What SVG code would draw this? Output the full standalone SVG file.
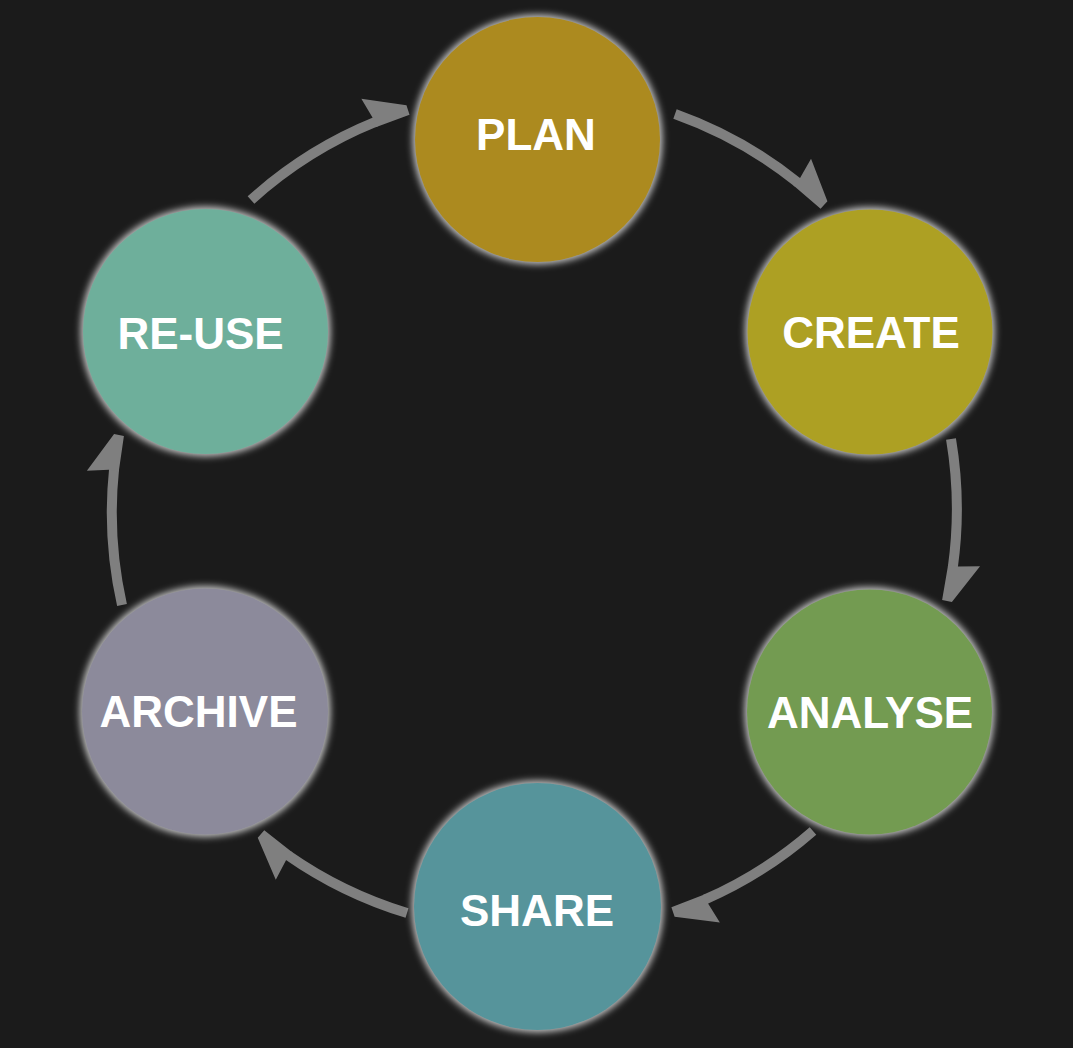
<svg xmlns="http://www.w3.org/2000/svg" width="1073" height="1048" viewBox="0 0 1073 1048">
<defs>
<filter id="glow" x="-20%" y="-20%" width="140%" height="140%"><feGaussianBlur stdDeviation="3.5"/></filter>
<polygon id="head" points="-36,-3.5 -41,-25 0,-5 0,5 -36,6.5"/>
<style>
.halo{fill:#c4c4c4;filter:url(#glow)}
.lbl{font-family:"Liberation Sans",Arial,sans-serif;font-weight:bold;font-size:44px;fill:#ffffff;text-anchor:middle}
.arc{fill:none;stroke:#7f7f7f;stroke-width:10}
.hd{fill:#7f7f7f}
</style>
</defs>
<rect width="1073" height="1048" fill="#1b1b1b"/>
<g id="connectors">
<path class="arc" d="M251,200 A422,422 0 0 1 376,121.7"/>
<use href="#head" class="hd" transform="translate(408,110) rotate(-17.75)"/>
<path class="arc" d="M675,114 A422,422 0 0 1 798.2,182.9"/>
<use href="#head" class="hd" transform="translate(824,205) rotate(42.97)"/>
<path class="arc" d="M951,439 A422,422 0 0 1 952.8,567.5"/>
<use href="#head" class="hd" transform="translate(947,601) rotate(102.1)"/>
<path class="arc" d="M813,831 A422,422 0 0 1 704.7,899.7"/>
<use href="#head" class="hd" transform="translate(673,912) rotate(161.2)"/>
<path class="arc" d="M407,913 A422,422 0 0 1 287.7,855.1"/>
<use href="#head" class="hd" transform="translate(261,834) rotate(-139.3)"/>
<path class="arc" d="M122,605 A422,422 0 0 1 114.1,468.7"/>
<use href="#head" class="hd" transform="translate(119,435) rotate(-79.4)"/>
</g>
<g id="plan">
<circle class="halo" cx="537.5" cy="139.5" r="125"/>
<circle cx="537.5" cy="139.5" r="122.5" fill="#ac8a1f"/>
<text class="lbl" x="536" y="149.5">PLAN</text>
</g>
<g id="create">
<circle class="halo" cx="870" cy="332" r="125"/>
<circle cx="870" cy="332" r="122.5" fill="#ada023"/>
<text class="lbl" x="871" y="348.3">CREATE</text>
</g>
<g id="analyse">
<circle class="halo" cx="869.5" cy="712" r="125"/>
<circle cx="869.5" cy="712" r="122.5" fill="#739b51"/>
<text class="lbl" x="870" y="728.3">ANALYSE</text>
</g>
<g id="share">
<circle class="halo" cx="537.5" cy="906.5" r="126"/>
<circle cx="537.5" cy="906.5" r="123.5" fill="#56949b"/>
<text class="lbl" x="537" y="926">SHARE</text>
</g>
<g id="archive">
<circle class="halo" cx="205" cy="711.5" r="125.5"/>
<circle cx="205" cy="711.5" r="123" fill="#8c8a9b"/>
<text class="lbl" x="198.5" y="726.7">ARCHIVE</text>
</g>
<g id="re-use">
<circle class="halo" cx="205.5" cy="331.5" r="125"/>
<circle cx="205.5" cy="331.5" r="122.5" fill="#6eaf9b"/>
<text class="lbl" x="200.5" y="349">RE-USE</text>
</g>
</svg>
